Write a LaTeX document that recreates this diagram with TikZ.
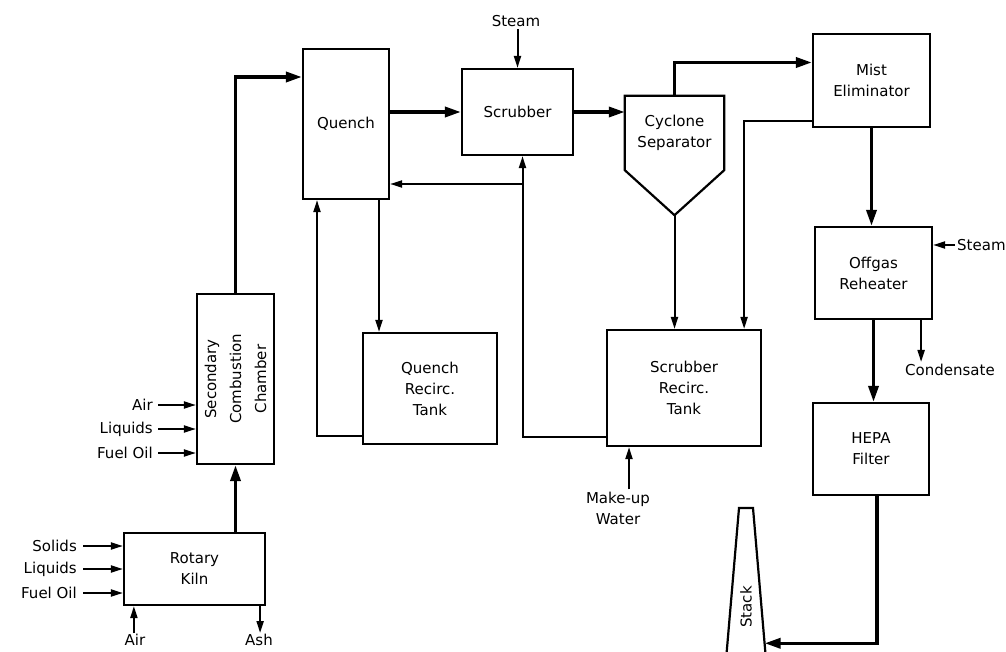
\documentclass[tikz,border=0pt]{standalone}
\usepackage{fontspec}
\setmainfont{DejaVu Sans}
\usetikzlibrary{arrows.meta,calc,positioning}

\begin{document}
\begin{tikzpicture}[x=1pt,y=-1pt,
  txt/.style={font=\fontsize{15}{21}\selectfont,align=center,inner sep=2pt},
  unit/.style={txt,draw,line width=2.2pt,inner sep=0pt},
  gas/.style={line width=3.4pt,-{Triangle[length=16pt,width=10pt]}},
  liq/.style={line width=2pt,-{Triangle[length=12pt,width=7pt]}}]
  \useasboundingbox[fill=white] (0,0) rectangle (1006,652);

  \node[unit,minimum width=141pt,minimum height=72pt] (kiln) at (194.5,569) {Rotary\\Kiln};
  \node[unit,minimum width=77pt,minimum height=170pt] (scc) at (235.5,379) {};
  \node[txt,rotate=90,font=\fontsize{15}{25}\selectfont] at (scc) {Secondary\\Combustion\\Chamber};
  \node[unit,minimum width=86pt,minimum height=150pt] (quench) at (346,124) {Quench};
  \node[unit,minimum width=111pt,minimum height=86pt] (scrub) at (517.5,112) {Scrubber};
  \node[unit,minimum width=134pt,minimum height=111pt] (qtank) at (430,388.5) {Quench\\Recirc.\\Tank};
  \node[unit,minimum width=154pt,minimum height=116pt] (stank) at (684,388) {Scrubber\\Recirc.\\Tank};
  \node[txt,minimum width=99pt,minimum height=74pt,inner sep=0pt] (cyc) at (674.5,133) {Cyclone\\Separator};
  \coordinate (cyctip) at ($(cyc.south)+(0,45)$);
  \draw[line width=2.2pt] (cyc.south west) -- (cyc.north west) -- (cyc.north east)
    -- (cyc.south east) -- (cyctip) -- cycle;
  \node[unit,minimum width=117pt,minimum height=93pt] (mist) at (871.5,80.5) {Mist\\Eliminator};
  \node[unit,minimum width=117pt,minimum height=92pt] (reheat) at (873.5,273) {Offgas\\Reheater};
  \node[unit,minimum width=116pt,minimum height=92pt] (hepa) at (871,449) {HEPA\\Filter};

  \coordinate (stackTL) at (739,508);
  \coordinate (stackTR) at (753,508);
  \coordinate (stackBL) at (726,660);
  \coordinate (stackBR) at (766,660);
  \draw[line width=2.2pt] (stackBL) -- (stackTL) -- (stackTR) -- (stackBR);
  \node[txt,rotate=90] (stack) at (746,607) {Stack};
  \coordinate (stackin) at ($(stackTR)!0.89!(stackBR)$);

  \node[txt,anchor=east,inner sep=5pt] (sair) at (158,405) {Air};
  \node[txt,anchor=east,inner sep=5pt] (sliq) at (158,429) {Liquids};
  \node[txt,anchor=east,inner sep=5pt] (soil) at (158,453) {Fuel Oil};
  \node[txt,anchor=east,inner sep=6pt] (ksol) at (83,546) {Solids};
  \node[txt,anchor=east,inner sep=6pt] (kliq) at (83,569) {Liquids};
  \node[txt,anchor=east,inner sep=6pt] (koil) at (83,593) {Fuel Oil};
  \node[txt,inner sep=1pt] (kair) at (135,640) {Air};
  \node[txt,inner sep=1pt] (ash) at (259,640) {Ash};
  \node[txt] (steamA) at (516,21) {Steam};
  \node[txt] (mkup) at (618,508) {Make-up\\Water};
  \node[txt,anchor=west] (steamB) at (955,245) {Steam};
  \node[txt] (cond) at (950,370) {Condensate};

  \draw[gas] (kiln.north -| scc.south) -- (scc.south);
  \draw[gas] (scc.north) |- ([yshift=47pt]quench.west);
  \draw[gas] (quench.east |- scrub.west) -- (scrub.west);
  \draw[gas] (scrub.east) -- (scrub.east -| cyc.west);
  \draw[gas] (cyc.north) |- ([yshift=18pt]mist.west);
  \draw[gas] (mist.south) -- (mist.south |- reheat.north);
  \draw[gas] (reheat.south) -- (reheat.south |- hepa.north);
  \draw[gas] ([xshift=6pt]hepa.south) |- (stackin);

  \foreach \n in {sair,sliq,soil}
    \draw[liq] (\n.east) -- (\n.east -| scc.west);
  \foreach \n in {ksol,kliq,koil}
    \draw[liq] (\n.east) -- (\n.east -| kiln.west);
  \coordinate (kin) at ([xshift=11pt]kiln.south west);
  \draw[liq] (kin |- kair.north) -- (kin);
  \coordinate (kout) at ([xshift=-6pt]kiln.south east);
  \draw[liq] (kout) -- (kout |- ash.north);

  \draw[liq] (steamA.south -| scrub.north) -- (scrub.north);
  \coordinate (qout) at ([xshift=33pt]quench.south);
  \draw[liq] (qout) -- (qout |- qtank.north);
  \draw[liq] ([yshift=-47.5pt]qtank.west) -| ([xshift=-29pt]quench.south);
  \coordinate (sret) at ([xshift=5pt]scrub.south);
  \coordinate (qret) at ([yshift=-60pt]quench.east);
  \draw[liq] ([yshift=-49pt]stank.west) -| (sret);
  \draw[liq] (sret |- qret) -- (qret);
  \draw[liq] (cyctip) -- (cyctip |- stank.north);
  \draw[liq] ([yshift=-41pt]mist.west) -| ([xshift=-18pt]stank.north east);
  \coordinate (mkin) at ([xshift=-55pt]stank.south);
  \draw[liq] (mkin |- mkup.north) -- (mkin);
  \draw[liq] (steamB.west) -- (steamB.west -| reheat.east);
  \coordinate (cout) at ([xshift=-12pt]reheat.south east);
  \draw[liq] (cout) -- (cout |- cond.north);
\end{tikzpicture}
\end{document}
